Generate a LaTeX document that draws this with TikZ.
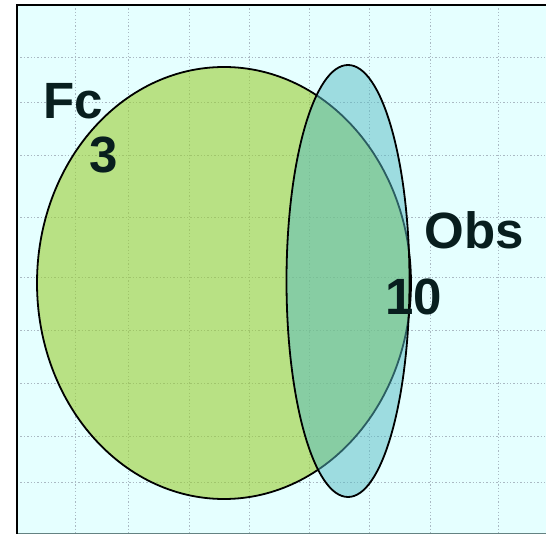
\documentclass[tikz,border=0pt]{standalone}
\usepackage{fontspec}
\setmainfont{Liberation Sans}
\definecolor{bgc}{RGB}{229,255,255}
\definecolor{gridc}{RGB}{170,185,195}
\definecolor{fcgreen}{RGB}{154,205,50}
\definecolor{obsblue}{RGB}{87,187,195}
\definecolor{txt}{RGB}{8,30,30}
\definecolor{botline}{RGB}{100,130,130}
\tikzset{
  gridline/.style={gridc, line width=1pt, dash pattern=on 1.3pt off 2.1pt},
  setfc/.style={fill=fcgreen, fill opacity=0.6, draw=black, draw opacity=1, line width=1.8pt},
  setobs/.style={fill=obsblue, fill opacity=0.5, draw=black, draw opacity=1, line width=1.8pt},
  lbl/.style={text=txt, font=\bfseries\fontsize{51}{51}\selectfont, inner sep=0pt},
}
\begin{document}
\begin{tikzpicture}[x=1pt,y=-1pt]
\useasboundingbox (0,0) rectangle (546,534);
% background panel
\fill[bgc] (17,5) rectangle (546,533);
% grid
\foreach \gx in {75.6,128.8,189,249,309.5,369.8,430.4,498.6}
  \draw[gridline] (\gx,5) -- (\gx,533);
\foreach \gy in {58,103,156,218,278,331,383,436,482}
  \draw[gridline] (17,\gy) -- (546,\gy);
% sets
\draw[setfc] (224,283) ellipse [x radius=187, y radius=216];
\draw[setobs] (348,281) ellipse [x radius=61.5, y radius=216];
% frame
\draw[botline, line width=1pt] (17,533) -- (546,533);
\draw[black, line width=2.4pt] (17,533.5) -- (17,5) -- (546,5);
% labels
\node[lbl] (fc) at (73,101) {Fc};
\node[lbl] (fcn) at (104,155) {3};
\node[lbl] (obs) at (474,230) {Obs};
\node[lbl] (obsn) at (414,297) {10};
\end{tikzpicture}
\end{document}
